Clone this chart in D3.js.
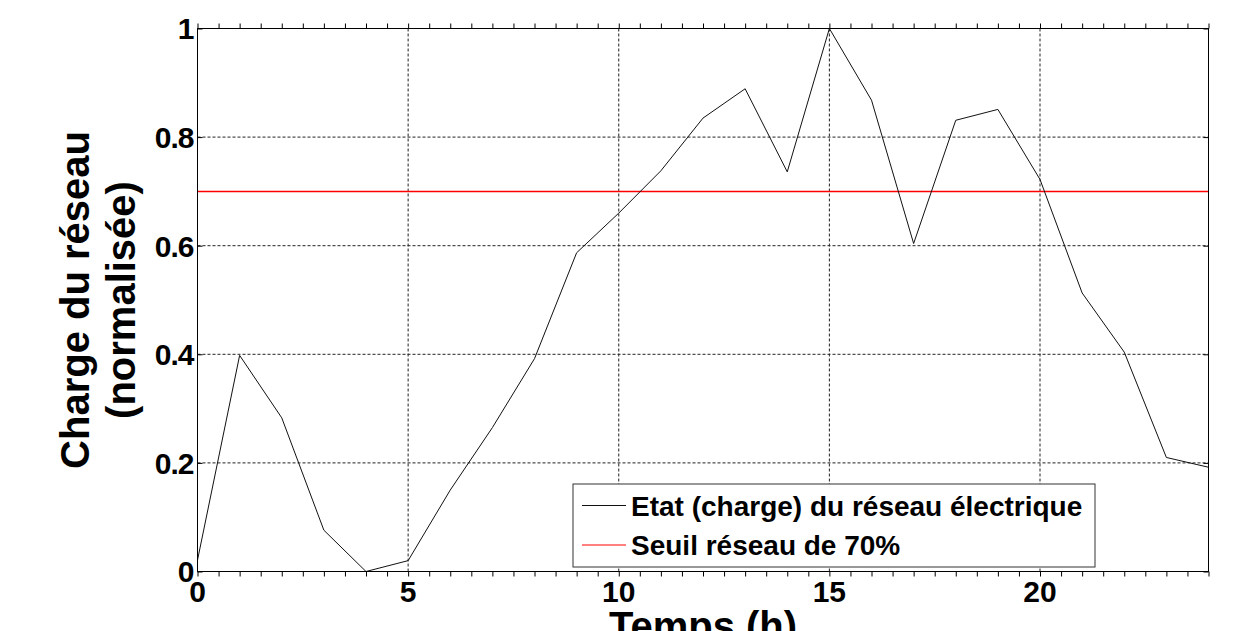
<!DOCTYPE html>
<html>
<head>
<meta charset="utf-8">
<script src="https://cdn.jsdelivr.net/npm/d3@7"></script>
<style>
  body { margin: 0; background: #fff; }
  text { font-family: "Liberation Sans", Arial, sans-serif; font-weight: bold; }
</style>
</head>
<body>
<div id="chart"></div>
<script>
// hours of the day and normalised grid load
const hours = [0, 1, 2, 3, 4, 5, 6, 7, 8, 9, 10, 11, 12, 13, 14, 15, 16, 17, 18, 19, 20, 21, 22, 23, 24];
const load = [0.021, 0.398, 0.283, 0.076, 0.0, 0.02, 0.15, 0.265, 0.392, 0.587, 0.66, 0.738, 0.835, 0.889, 0.736, 1.0,
    0.868, 0.604, 0.831, 0.851, 0.722, 0.513, 0.404, 0.21, 0.192];
const threshold = 0.7;
const xTicks = [0, 5, 10, 15, 20];
const yTicks = [0, 0.2, 0.4, 0.6, 0.8, 1];
const legendLabels = ["Etat (charge) du réseau électrique", "Seuil réseau de 70%"];

const W = 1245, H = 631;
const margin = {top: 28.5, right: 36.5, bottom: 59.5, left: 197.5};
const width = W - margin.left - margin.right;
const height = H - margin.top - margin.bottom;

const svg = d3.select("#chart").append("svg")
    .attr("width", W)
    .attr("height", H);

const g = svg.append("g")
    .attr("transform", `translate(${margin.left},${margin.top})`);

const x = d3.scaleLinear().domain([0, 24]).range([0, width]);
const y = d3.scaleLinear().domain([0, 1]).range([height, 0]);

// dotted grid
g.selectAll(".vgrid")
    .data(xTicks.filter(d => d > 0))
    .enter().append("line")
    .attr("x1", d => x(d)).attr("x2", d => x(d))
    .attr("y1", 0).attr("y2", height)
    .attr("stroke", "#222").attr("stroke-dasharray", "3,2");
g.selectAll(".hgrid")
    .data(yTicks.filter(d => d > 0 && d < 1))
    .enter().append("line")
    .attr("x1", 0).attr("x2", width)
    .attr("y1", d => y(d)).attr("y2", d => y(d))
    .attr("stroke", "#222").attr("stroke-dasharray", "3,2");

// inward ticks: minor every half hour on x, major on y
const minor = d3.range(0, 24.01, 0.5);
g.append("g").call(d3.axisTop(x).tickValues(minor).tickSize(-5).tickFormat(""))
    .attr("transform", `translate(0,${height})`)
    .call(a => a.select(".domain").remove())
    .selectAll("line").attr("stroke", "#000");
g.append("g").call(d3.axisBottom(x).tickValues(minor).tickSize(-5).tickFormat(""))
    .call(a => a.select(".domain").remove())
    .selectAll("line").attr("stroke", "#000");
g.append("g").call(d3.axisRight(y).tickValues(yTicks).tickSize(5).tickFormat(""))
    .call(a => a.select(".domain").remove())
    .selectAll("line").attr("stroke", "#000");
g.append("g").call(d3.axisLeft(y).tickValues(yTicks).tickSize(5).tickFormat(""))
    .attr("transform", `translate(${width},0)`)
    .call(a => a.select(".domain").remove())
    .selectAll("line").attr("stroke", "#000");

// tick labels
g.selectAll(".xlab")
    .data(xTicks)
    .enter().append("text")
    .attr("x", d => x(d))
    .attr("y", height + 30.5)
    .attr("text-anchor", "middle")
    .attr("font-size", 30)
    .text(d => d);
g.selectAll(".ylab")
    .data(yTicks)
    .enter().append("text")
    .attr("x", -4)
    .attr("y", d => y(d))
    .attr("dy", "0.36em")
    .attr("text-anchor", "end")
    .attr("font-size", 30)
    .attr("letter-spacing", -1)
    .text(d => d);

// threshold
g.append("line")
    .attr("x1", 0).attr("x2", width)
    .attr("y1", y(threshold)).attr("y2", y(threshold))
    .attr("stroke", "#ff0000").attr("stroke-width", 1.5);

// load curve
const line = d3.line()
    .x((d, i) => x(hours[i]))
    .y(d => y(d));
g.append("path")
    .datum(load)
    .attr("fill", "none")
    .attr("stroke", "#111")
    .attr("stroke-width", 1)
    .attr("d", line);

// frame
g.append("rect")
    .attr("width", width).attr("height", height)
    .attr("fill", "none").attr("stroke", "#000");

// legend
const leg = svg.append("g").attr("transform", "translate(573,484)");
leg.append("rect")
    .attr("width", 522).attr("height", 83)
    .attr("fill", "#fff").attr("stroke", "#333");
const legColors = ["#111", "#ff0000"];
legendLabels.forEach((lab, i) => {
    const cy = 21.5 + i * 39.5;
    leg.append("line")
        .attr("x1", 9).attr("x2", 53)
        .attr("y1", cy).attr("y2", cy)
        .attr("stroke", legColors[i]).attr("stroke-width", 1);
    leg.append("text")
        .attr("x", 58).attr("y", cy)
        .attr("dy", "0.36em")
        .attr("font-size", 28)
        .text(lab);
});

// axis titles
svg.append("text")
    .attr("x", margin.left + width / 2)
    .attr("y", 640)
    .attr("text-anchor", "middle")
    .attr("font-size", 40)
    .text("Temps (h)");
const yt = svg.append("text")
    .attr("transform", `translate(89,${margin.top + height / 2}) rotate(-90)`)
    .attr("text-anchor", "middle")
    .attr("font-size", 40);
yt.append("tspan").attr("x", 0).attr("y", 0).text("Charge du réseau");
yt.append("tspan").attr("x", 0).attr("y", 46).text("(normalisée)");
</script>
</body>
</html>
